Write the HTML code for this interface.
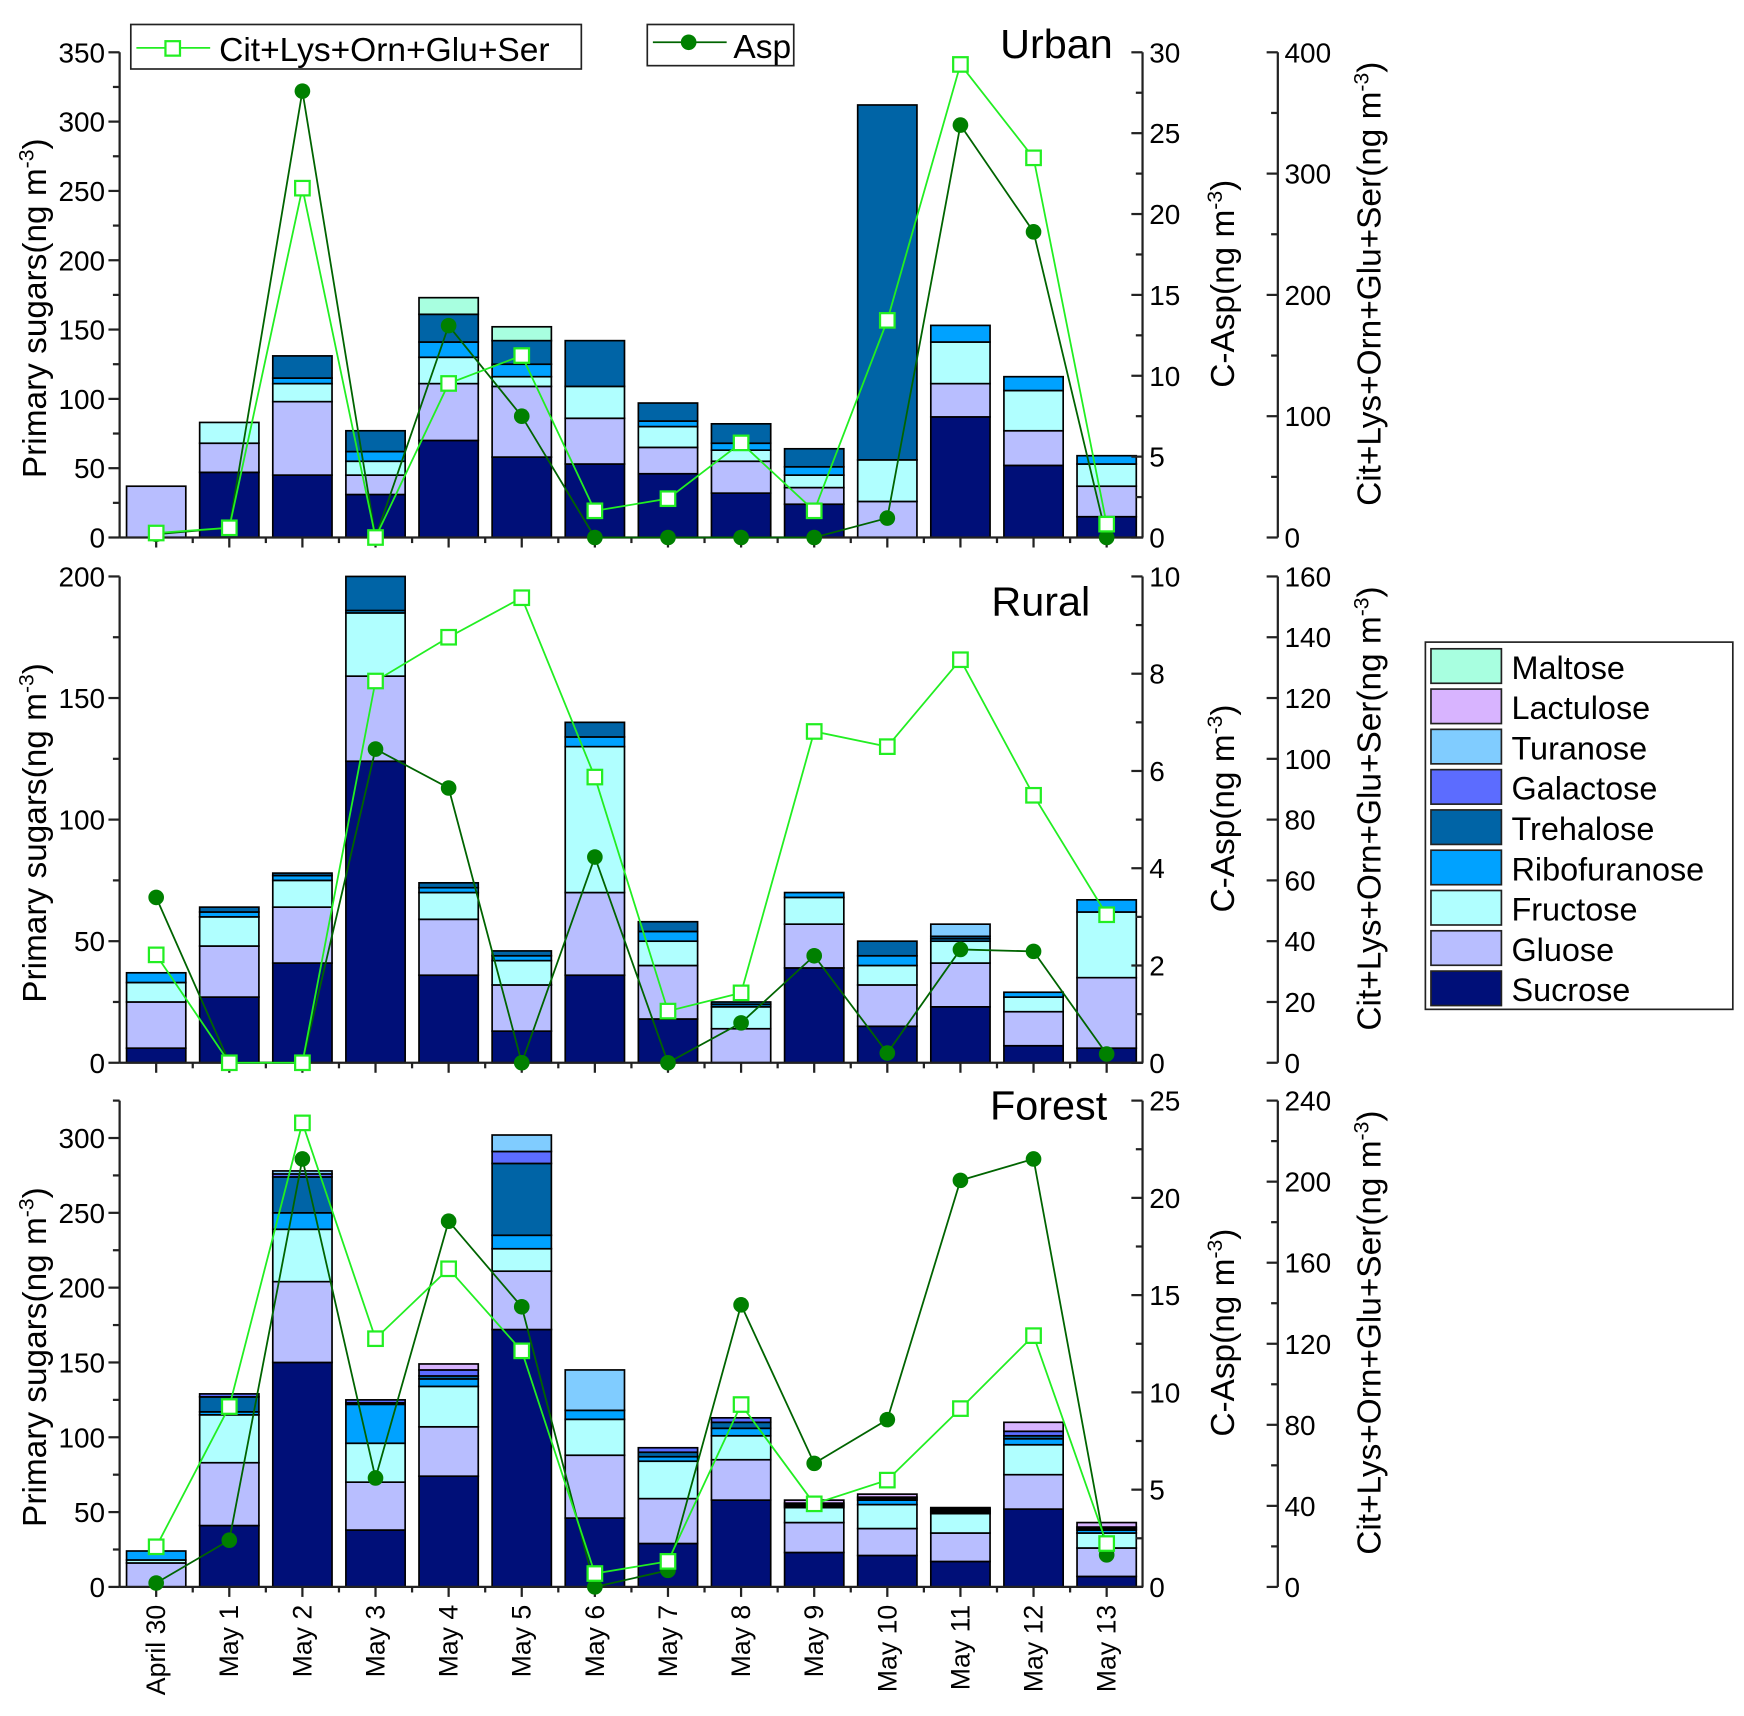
<!DOCTYPE html>
<html><head><meta charset="utf-8"><style>
html,body{margin:0;padding:0;background:#fff}
svg{display:block;font-family:"Liberation Sans",Arial,sans-serif}
</style></head><body>
<svg id="chart" xmlns="http://www.w3.org/2000/svg" width="1744" height="1716" viewBox="0 -2 1560 1542" preserveAspectRatio="none"></svg>
<script>
const categories=["April 30","May 1","May 2","May 3","May 4","May 5","May 6","May 7","May 8","May 9","May 10","May 11","May 12","May 13"];
const sugarNames=["Sucrose","Gluose","Fructose","Ribofuranose","Trehalose","Galactose","Turanose","Lactulose","Maltose"];
// cumulative tops per category, order Sucrose..Maltose
const urbanTops=[
[0,37,37,37,37,37,37,37,37],[47,68,83,83,83,83,83,83,83],[45,98,111,115,131,131,131,131,131],
[31,45,55,62,77,77,77,77,77],[70,111,130,141,161,161,161,161,173],[58,109,116,125,142,142,142,142,152],
[53,86,109,109,142,142,142,142,142],[46,65,80,84,97,97,97,97,97],[32,55,63,68,82,82,82,82,82],
[24,36,45,51,64,64,64,64,64],[0,26,56,56,312,312,312,312,312],[87,111,141,153,153,153,153,153,153],
[52,77,106,116,116,116,116,116,116],[15,37,53,59,59,59,59,59,59]];
const urbanAsp=[0.2,0.6,27.6,0,13.1,7.5,0,0,0,0,1.2,25.5,18.9,0];
const urbanCit=[3.7,8,288,0,127,150,22,32,78,22,179,390,313,11];
const ruralTops=[
[6,25,33,37,37,37,37,37,37],[27,48,60,62,64,64,64,64,64],[41,64,75,77,78,78,78,78,78],
[124,159,185,186,200,200,200,200,200],[36,59,70,72,74,74,74,74,74],[13,32,42,44,46,46,46,46,46],
[36,70,130,134,140,140,140,140,140],[18,40,50,54,58,58,58,58,58],[0,14,23,24,25,25,25,25,25],
[39,57,68,70,70,70,70,70,70],[15,32,40,44,50,50,50,50,50],[23,41,50,51,52,52,57,57,57],
[7,21,27,29,29,29,29,29,29],[6,35,62,67,67,67,67,67,67]];
const ruralAsp=[3.4,0,0,6.45,5.65,0,4.23,0,0.82,2.2,0.2,2.33,2.29,0.18];
const ruralCit=[35.5,0,0,125.6,140,153,94,17,23,109,104,132.6,88,48.7];
const forestTops=[
[0,16,18,24,24,24,24,24,24],[41,83,115,117,127,129,129,129,129],[150,204,239,250,274,276,278,278,278],
[38,70,96,122,123,125,125,125,125],[74,107,134,139,141,145,145,149,149],[172,211,226,235,283,291,302,302,302],
[46,88,112,118,118,118,145,145,145],[29,59,84,87,90,93,93,93,93],[58,85,101,106,110,113,113,113,113],
[23,43,53,54,55,56,56,58,58],[21,39,55,58,59,60,60,62,62],[17,36,49,50,51,52,52,53,53],
[52,75,95,99,101,104,104,110,110],[7,26,36,38,39,40,40,43,43]];
const forestAsp=[0.2,2.4,22,5.6,18.8,14.4,0,0.85,14.5,6.35,8.6,20.9,22,1.65];
const forestCit=[19.8,89,229,122.5,157,116.5,6.6,12.6,90,41,52.7,88,124,21.4];

const colors=["#000f78","#b8beff","#b0ffff","#00a2ff","#0064a6","#5c6cff","#80ccff","#d8b4ff","#a8ffe0"];
const NS="http://www.w3.org/2000/svg";
const svg=document.getElementById('chart');
function mk(tag,attrs,parent){const e=document.createElementNS(NS,tag);for(const k in attrs)e.setAttribute(k,attrs[k]);(parent||svg).appendChild(e);return e;}
const X0=107,DX=65.4;
function xc(i){return X0+(i+0.5)*DX;}
const XR=X0+14*DX;
const TF=25;

const panels=[
 {name:"urban",title:"Urban",tx:945,ty:50,top:45,bot:481,lmax:350,lstep:50,r1max:30,r1step:5,r2max:400,r2step:100,r2minor:50,tops:urbanTops,asp:urbanAsp,cit:urbanCit},
 {name:"rural",title:"Rural",tx:931,ty:551,top:516,bot:953,lmax:200,lstep:50,r1max:10,r1step:2,r2max:160,r2step:20,r2minor:null,tops:ruralTops,asp:ruralAsp,cit:ruralCit},
 {name:"forest",title:"Forest",tx:938,ty:1004,top:987,bot:1424,lmax:325,lstep:50,r1max:25,r1step:5,r2max:240,r2step:40,r2minor:20,tops:forestTops,asp:forestAsp,cit:forestCit}
];
const AX1=1022,AX2=1143;

panels.forEach(p=>{
 const g=mk('g',{});
 
 
 const yl=v=>p.bot-(v/p.lmax)*(p.bot-p.top);
 const y1=v=>p.bot-(v/p.r1max)*(p.bot-p.top);
 const y2=v=>p.bot-(v/p.r2max)*(p.bot-p.top);
 p.tops.forEach((t,i)=>{
  let prev=0;
  t.forEach((v,k)=>{
   if(v>prev){
    const r=mk('rect',{x:xc(i)-26.5,y:yl(v),width:53,height:yl(prev)-yl(v),fill:colors[k],stroke:'#000','stroke-width':1.5},g);
    
    
   }
   prev=Math.max(prev,v);
  });
 });
 mk('line',{x1:X0,y1:p.top,x2:X0,y2:p.bot,stroke:'#222','stroke-width':2},g);
 for(let v=0;v<=p.lmax+0.01;v+=p.lstep/2){
  const major=Math.abs(v/p.lstep-Math.round(v/p.lstep))<0.01;
  mk('line',{x1:X0,y1:yl(v),x2:X0-(major?10:6),y2:yl(v),stroke:'#222','stroke-width':2},g);
  if(major){const t=mk('text',{x:X0-13,y:yl(v)+9,'font-size':TF,'text-anchor':'end'},g);t.textContent=v;
   }
 }
 mk('line',{x1:X0,y1:p.bot,x2:XR,y2:p.bot,stroke:'#222','stroke-width':2},g);
 categories.forEach((c,i)=>{mk('line',{x1:xc(i),y1:p.bot,x2:xc(i),y2:p.bot+9,stroke:'#222','stroke-width':2},g);
  if(i>0) mk('line',{x1:X0+i*DX,y1:p.bot,x2:X0+i*DX,y2:p.bot+5,stroke:'#222','stroke-width':2},g);});
 mk('line',{x1:AX1,y1:p.top,x2:AX1,y2:p.bot,stroke:'#222','stroke-width':2},g);
 for(let v=0;v<=p.r1max+0.01;v+=p.r1step/2){
  const major=Math.abs(v/p.r1step-Math.round(v/p.r1step))<0.01;
  mk('line',{x1:AX1,y1:y1(v),x2:AX1-(major?10:6),y2:y1(v),stroke:'#222','stroke-width':2},g);
  if(major){const t=mk('text',{x:AX1+6,y:y1(v)+9,'font-size':TF},g);t.textContent=v;
   }
 }
 mk('line',{x1:AX2,y1:p.top,x2:AX2,y2:p.bot,stroke:'#222','stroke-width':2},g);
 const mstep=p.r2minor||p.r2step;
 for(let v=0;v<=p.r2max+0.01;v+=mstep){
  const major=Math.abs(v/p.r2step-Math.round(v/p.r2step))<0.01;
  mk('line',{x1:AX2,y1:y2(v),x2:AX2-(major?10:6),y2:y2(v),stroke:'#222','stroke-width':2},g);
  if(major){const t=mk('text',{x:AX2+6,y:y2(v)+9,'font-size':TF},g);t.textContent=v;
   }
 }
 const mid=(p.top+p.bot)/2;
 let t=mk('text',{x:0,y:0,'font-size':30,'text-anchor':'middle',transform:`translate(41,${mid+12}) rotate(-90)`},g);
 t.innerHTML='Primary sugars(ng m<tspan dy="-11" font-size="19">-3</tspan><tspan dy="11">)</tspan>';
 
 t=mk('text',{x:0,y:0,'font-size':30,'text-anchor':'middle',transform:`translate(1104,${mid-10}) rotate(-90)`},g);
 t.innerHTML='C-Asp(ng m<tspan dy="-11" font-size="19">-3</tspan><tspan dy="11">)</tspan>';
 
 t=mk('text',{x:0,y:0,'font-size':30,'text-anchor':'middle',transform:`translate(1235,${mid-10}) rotate(-90)`},g);
 t.innerHTML='Cit+Lys+Orn+Glu+Ser(ng m<tspan dy="-11" font-size="19">-3</tspan><tspan dy="11">)</tspan>';
 
 t=mk('text',{x:p.tx,y:p.ty,'font-size':37,'text-anchor':'middle'},g);t.textContent=p.title;
 
 const pa=mk('polyline',{points:p.asp.map((v,i)=>xc(i)+','+y1(v)).join(' '),fill:'none',stroke:'#006400','stroke-width':1.6},g);
 
 const pc=mk('polyline',{points:p.cit.map((v,i)=>xc(i)+','+y2(v)).join(' '),fill:'none',stroke:'#22ee22','stroke-width':1.6},g);
 
 p.asp.forEach((v,i)=>{const c=mk('circle',{cx:xc(i),cy:y1(v),r:7,fill:'#008000'},g);
  });
 p.cit.forEach((v,i)=>{const c=mk('rect',{x:xc(i)-6.5,y:y2(v)-6.5,width:13,height:13,fill:'#fff',stroke:'#22ee22','stroke-width':2},g);
  });
});
categories.forEach((c,i)=>{const t=mk('text',{x:0,y:0,'font-size':24,'text-anchor':'end',transform:`translate(${xc(i)+8},1440) rotate(-90)`});t.textContent=c;
 });
let lg=mk('g',{});
mk('rect',{x:117,y:20,width:403,height:40,fill:'#fff',stroke:'#222','stroke-width':1.5},lg);
mk('line',{x1:122,y1:41,x2:188,y2:41,stroke:'#22ee22','stroke-width':1.6},lg);
mk('rect',{x:148,y:35,width:13,height:13,fill:'#fff',stroke:'#22ee22','stroke-width':2},lg);
let tt=mk('text',{x:196,y:53,'font-size':30},lg);tt.textContent='Cit+Lys+Orn+Glu+Ser';
lg=mk('g',{});
mk('rect',{x:579,y:20,width:131,height:37,fill:'#fff',stroke:'#222','stroke-width':1.5},lg);
mk('line',{x1:584,y1:36,x2:650,y2:36,stroke:'#006400','stroke-width':1.6},lg);
mk('circle',{cx:616,cy:36,r:7,fill:'#008000'},lg);
tt=mk('text',{x:656,y:50,'font-size':30},lg);tt.textContent='Asp';
lg=mk('g',{});
mk('rect',{x:1275,y:575,width:275,height:330,fill:'#fff',stroke:'#222','stroke-width':1.5},lg);
for(let k=8;k>=0;k--){const row=8-k;const y=581+row*36.2;
 const r=mk('rect',{x:1280,y:y,width:63,height:31,fill:colors[k],stroke:'#222','stroke-width':1.5},lg);
 
 const t=mk('text',{x:1352,y:y+27,'font-size':29},lg);t.textContent=sugarNames[k];
 }
</script>
</body></html>
